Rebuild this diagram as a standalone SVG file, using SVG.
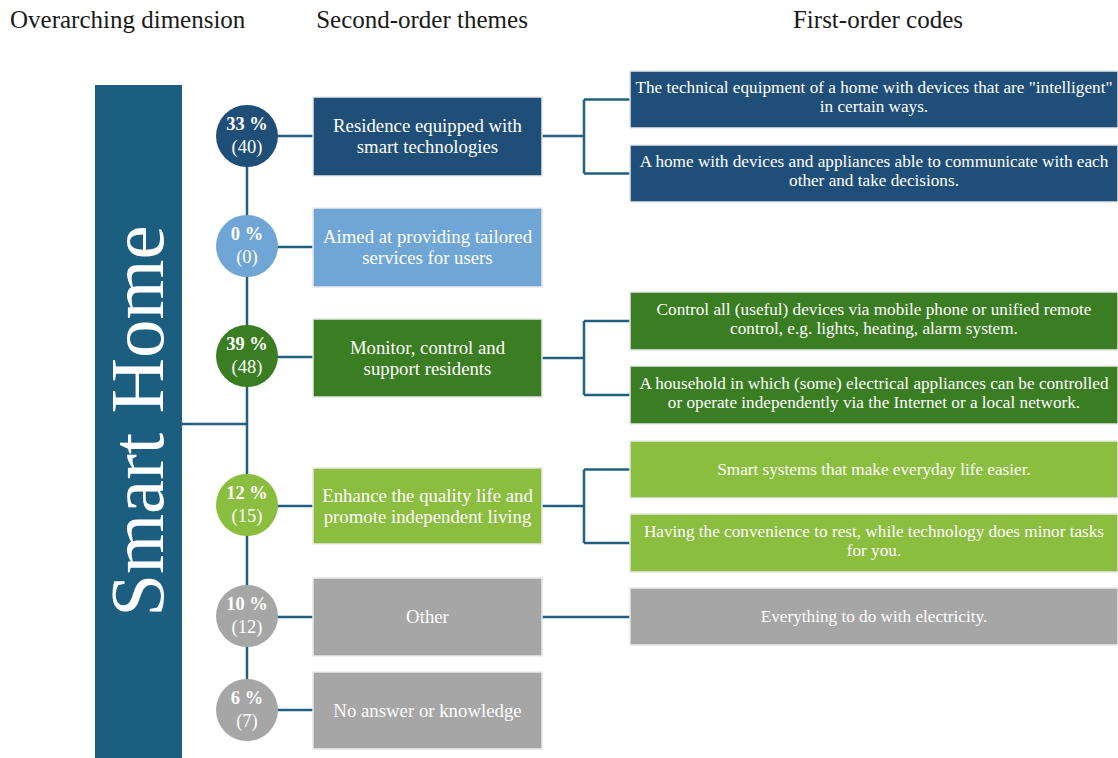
<svg xmlns="http://www.w3.org/2000/svg" width="1118" height="758" viewBox="0 0 1118 758">
<style>
text{font-family:"Liberation Serif","Times New Roman",serif;}
.hd{font-size:25px;fill:#1a1a1a;}
.bt{font-size:18.8px;fill:#ffffff;text-anchor:middle;}
.ct{font-size:17.2px;fill:#ffffff;text-anchor:middle;}
.pc{font-size:18.5px;fill:#ffffff;text-anchor:middle;font-weight:bold;}
.nm{font-size:18.5px;fill:#ffffff;text-anchor:middle;}
.box{stroke:#e9e9e9;stroke-width:1.5;}
.ln{stroke:#22607f;stroke-width:2.5;fill:none;}
.db{fill:#1f4e79;}
.lb{fill:#6fa6d6;}
.dg{fill:#3a7d22;}
.lg{fill:#8bbd3e;}
.gr{fill:#a6a6a6;}
</style>
<rect width="1118" height="758" fill="#ffffff"/>
<g id="headers">
<text class="hd" x="10" y="28">Overarching dimension</text>
<text class="hd" x="422" y="28" text-anchor="middle">Second-order themes</text>
<text class="hd" x="878" y="28" text-anchor="middle">First-order codes</text>
</g>
<g id="connectors">
<path class="ln" d="M182 424 H247"/>
<path class="ln" d="M247 136 V710"/>
<path class="ln" d="M247 136 H313 M247 247 H313 M247 357 H313 M247 506 H313 M247 617 H313 M247 710 H313"/>
<path class="ln" d="M542 136 H584 M584 99.5 V173.5 M584 99.5 H630 M584 173.5 H630"/>
<path class="ln" d="M542 358 H584 M584 321 V395 M584 321 H630 M584 395 H630"/>
<path class="ln" d="M542 506 H584 M584 469.5 V543 M584 469.5 H630 M584 543 H630"/>
<path class="ln" d="M542 617 H630"/>
</g>
<g id="smart-home">
<rect x="95" y="85" width="87" height="675" fill="#1b5e80"/>
<text transform="translate(163,421) rotate(-90)" text-anchor="middle" style="font-size:77px;fill:#ffffff;">Smart Home</text>
</g>
<g id="theme1">
<circle cx="247" cy="136" r="31" class="db"/>
<text class="pc" x="247" y="130">33 %</text>
<text class="nm" x="247" y="153">(40)</text>
<rect x="313" y="97" width="229" height="79" class="box db"/>
<text class="bt" x="427.5" y="131.5">Residence equipped with</text>
<text class="bt" x="427.5" y="152.5">smart technologies</text>
</g>
<g id="theme2">
<circle cx="247" cy="246" r="31" class="lb"/>
<text class="pc" x="247" y="240">0 %</text>
<text class="nm" x="247" y="263">(0)</text>
<rect x="313" y="208" width="229" height="79" class="box lb"/>
<text class="bt" x="427.5" y="243">Aimed at providing tailored</text>
<text class="bt" x="427.5" y="264">services for users</text>
</g>
<g id="theme3">
<circle cx="247" cy="356" r="31" class="dg"/>
<text class="pc" x="247" y="350">39 %</text>
<text class="nm" x="247" y="373">(48)</text>
<rect x="313" y="319" width="229" height="78" class="box dg"/>
<text class="bt" x="427.5" y="353.5">Monitor, control and</text>
<text class="bt" x="427.5" y="374.5">support residents</text>
</g>
<g id="theme4">
<circle cx="247" cy="505" r="31" class="lg"/>
<text class="pc" x="247" y="499">12 %</text>
<text class="nm" x="247" y="522">(15)</text>
<rect x="313" y="468" width="229" height="76" class="box lg"/>
<text class="bt" x="427.5" y="501.5">Enhance the quality life and</text>
<text class="bt" x="427.5" y="522.5">promote independent living</text>
</g>
<g id="theme5">
<circle cx="247" cy="616" r="31" class="gr"/>
<text class="pc" x="247" y="610">10 %</text>
<text class="nm" x="247" y="633">(12)</text>
<rect x="313" y="578" width="229" height="78" class="box gr"/>
<text class="bt" x="427.5" y="623">Other</text>
</g>
<g id="theme6">
<circle cx="247" cy="710" r="31" class="gr"/>
<text class="pc" x="247" y="704">6 %</text>
<text class="nm" x="247" y="727">(7)</text>
<rect x="313" y="672" width="229" height="77" class="box gr"/>
<text class="bt" x="427.5" y="717">No answer or knowledge</text>
</g>
<g id="code1a">
<rect x="630" y="71" width="488" height="57" class="box db"/>
<text class="ct" x="874" y="93">The technical equipment of a home with devices that are "intelligent"</text>
<text class="ct" x="874" y="112">in certain ways.</text>
</g>
<g id="code1b">
<rect x="630" y="145" width="488" height="57" class="box db"/>
<text class="ct" x="874" y="167">A home with devices and appliances able to communicate with each</text>
<text class="ct" x="874" y="186">other and take decisions.</text>
</g>
<g id="code3a">
<rect x="630" y="292" width="488" height="58" class="box dg"/>
<text class="ct" x="874" y="315">Control all (useful) devices via mobile phone or unified remote</text>
<text class="ct" x="874" y="334">control, e.g. lights, heating, alarm system.</text>
</g>
<g id="code3b">
<rect x="630" y="366" width="488" height="58" class="box dg"/>
<text class="ct" x="874" y="389">A household in which (some) electrical appliances can be controlled</text>
<text class="ct" x="874" y="408">or operate independently via the Internet or a local network.</text>
</g>
<g id="code4a">
<rect x="630" y="441" width="488" height="57" class="box lg"/>
<text class="ct" x="874" y="475">Smart systems that make everyday life easier.</text>
</g>
<g id="code4b">
<rect x="630" y="514" width="488" height="58" class="box lg"/>
<text class="ct" x="874" y="537">Having the convenience to rest, while technology does minor tasks</text>
<text class="ct" x="874" y="556">for you.</text>
</g>
<g id="code5">
<rect x="630" y="588" width="488" height="57" class="box gr"/>
<text class="ct" x="874" y="622">Everything to do with electricity.</text>
</g>
</svg>
